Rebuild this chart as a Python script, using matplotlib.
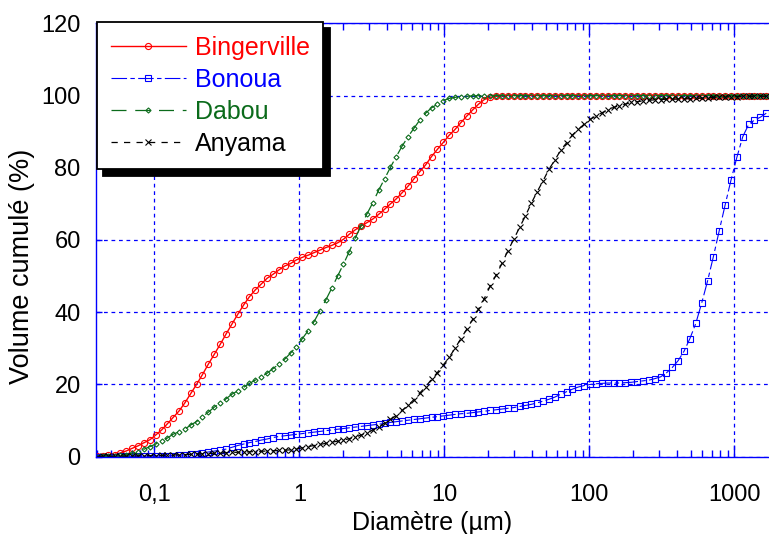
import matplotlib
matplotlib.use("Agg")
import matplotlib.pyplot as plt
import matplotlib.ticker as mticker

plt.rcParams["font.family"] = ["Liberation Sans", "DejaVu Sans"]

# ── Data: cumulative volume (%) per size channel (µm) ────────────────

diametre = [
    0.040, 0.044, 0.048, 0.053, 0.058, 0.064, 0.070, 0.077, 0.084, 0.093,
    0.102, 0.112, 0.122, 0.134, 0.148, 0.162, 0.178, 0.195, 0.214, 0.235,
    0.258, 0.284, 0.311, 0.342, 0.375, 0.412, 0.452, 0.496, 0.545, 0.598,
    0.657, 0.721, 0.791, 0.869, 0.953, 1.047, 1.149, 1.261, 1.385, 1.520,
    1.668, 1.832, 2.011, 2.207, 2.423, 2.660, 2.920, 3.205, 3.519, 3.863,
    4.240, 4.655, 5.110, 5.610, 6.158, 6.760, 7.421, 8.147, 8.943, 9.817,
    10.78, 11.83, 12.99, 14.26, 15.65, 17.18, 18.86, 20.71, 22.73, 24.95,
    27.39, 30.07, 33.01, 36.24, 39.78, 43.67, 47.94, 52.62, 57.77, 63.42,
    69.62, 76.42, 83.90, 92.09, 101.1, 111.0, 121.8, 133.7, 146.8, 161.2,
    176.9, 194.2, 213.2, 234.1, 256.9, 282.1, 309.6, 339.9, 373.1, 409.6,
    449.7, 493.6, 541.9, 594.9, 653.0, 716.9, 786.9, 863.9, 948.3, 1041,
    1143, 1255, 1377, 1512, 1660,
]

bingerville = [
    0.1, 0.2, 0.35, 0.6, 1.0, 1.6, 2.3, 3.0, 3.8, 4.7,
    6.0, 7.4, 9.0, 10.8, 12.7, 14.9, 17.5, 20.0, 22.7, 25.6,
    28.3, 31.1, 33.9, 36.7, 39.4, 42.0, 44.3, 46.2, 47.8, 49.4,
    50.5, 51.7, 52.8, 53.5, 54.5, 55.2, 55.8, 56.5, 57.2, 57.9,
    58.5, 59.2, 60.2, 61.6, 62.8, 63.9, 64.8, 65.8, 67.1, 68.5,
    70.0, 71.4, 73.1, 74.9, 76.9, 78.9, 80.8, 83.1, 85.1, 87.0,
    89.0, 90.6, 92.5, 94.3, 96.0, 97.6, 98.9, 99.5, 99.8, 99.9,
    100, 100, 100, 100, 100, 100, 100, 100, 100, 100,
    100, 100, 100, 100, 100, 100, 100, 100, 100, 100,
    100, 100, 100, 100, 100, 100, 100, 100, 100, 100,
    100, 100, 100, 100, 100, 100, 100, 100, 100, 100,
    100, 100, 100, 100, 100,
]

bonoua = [
    0.02, 0.03, 0.04, 0.05, 0.06, 0.08, 0.1, 0.12, 0.14, 0.17,
    0.2, 0.23, 0.27, 0.3, 0.4, 0.5, 0.65, 0.85, 1.05, 1.3,
    1.55, 1.8, 2.1, 2.6, 3.1, 3.5, 3.9, 4.2, 4.6, 4.9,
    5.3, 5.6, 5.8, 6.0, 6.2, 6.4, 6.6, 6.8, 7.0, 7.2,
    7.4, 7.6, 7.8, 8.0, 8.2, 8.4, 8.6, 8.8, 9.0, 9.2,
    9.5, 9.7, 9.9, 10.1, 10.3, 10.5, 10.7, 10.9, 11.1, 11.3,
    11.5, 11.7, 11.9, 12.0, 12.2, 12.4, 12.6, 12.8, 13.0, 13.2,
    13.4, 13.6, 13.9, 14.2, 14.5, 14.9, 15.4, 15.9, 16.5, 17.3,
    18.0, 18.7, 19.3, 19.7, 20.0, 20.2, 20.3, 20.4, 20.4, 20.4,
    20.5, 20.6, 20.8, 21.0, 21.2, 21.6, 22.1, 23.2, 24.7, 26.6,
    29.2, 32.7, 36.9, 42.5, 48.6, 55.4, 62.6, 69.7, 76.6, 82.9,
    88.6, 92.0, 93.2, 94.0, 95.1,
]

dabou = [
    0.05, 0.1, 0.15, 0.25, 0.4, 0.6, 0.9, 1.4, 2.0, 2.8,
    3.5, 4.4, 5.1, 6.2, 6.9, 7.6, 8.8, 9.7, 11.1, 12.3,
    13.7, 14.8, 16.0, 17.3, 18.2, 19.2, 20.3, 21.2, 22.1, 23.1,
    24.4, 25.6, 27.0, 28.7, 30.5, 32.7, 34.9, 37.4, 40.4, 43.4,
    46.6, 50.0, 53.3, 56.8, 60.5, 63.9, 67.2, 70.3, 73.8, 76.9,
    80.1, 83.1, 86.0, 88.6, 90.9, 93.2, 95.1, 96.6, 97.6, 98.6,
    99.2, 99.5, 99.7, 99.8, 99.9, 99.95, 100, 100, 100, 100,
    100, 100, 100, 100, 100, 100, 100, 100, 100, 100,
    100, 100, 100, 100, 100, 100, 100, 100, 100, 100,
    100, 100, 100, 100, 100, 100, 100, 100, 100, 100,
    100, 100, 100, 100, 100, 100, 100, 100, 100, 100,
    100, 100, 100, 100, 100,
]

anyama = [
    0.05, 0.06, 0.08, 0.1, 0.12, 0.15, 0.18, 0.21, 0.25, 0.29,
    0.33, 0.37, 0.42, 0.47, 0.53, 0.59, 0.65, 0.72, 0.8, 0.88,
    0.96, 1.04, 1.1, 1.17, 1.23, 1.3, 1.36, 1.42, 1.5, 1.57,
    1.64, 1.72, 1.8, 1.9, 2.1, 2.5, 2.8, 3.1, 3.4, 3.7,
    4.0, 4.3, 4.6, 5.0, 5.4, 6.0, 6.6, 7.4, 8.3, 9.3,
    10.3, 11.4, 12.8, 14.2, 15.8, 17.6, 19.4, 21.4, 23.3, 25.4,
    27.5, 30.0, 32.7, 35.3, 38.0, 40.8, 43.8, 47.3, 50.3, 53.5,
    57.0, 60.2, 63.5, 66.7, 70.2, 73.4, 76.4, 79.6, 82.1, 84.9,
    86.9, 89.1, 90.6, 92.1, 93.4, 94.3, 95.2, 96.0, 96.7, 97.2,
    97.6, 98.1, 98.3, 98.5, 98.7, 98.8, 98.9, 99.0, 99.0, 99.0,
    99.1, 99.1, 99.2, 99.3, 99.4, 99.5, 99.6, 99.6, 99.7, 99.7,
    99.8, 99.8, 99.8, 99.8, 99.8,
]

x_ticks = [0.1, 1, 10, 100, 1000]
x_ticklabels = ["0,1", "1", "10", "100", "1000"]
y_ticks = [0, 20, 40, 60, 80, 100, 120]

# ── Figure ───────────────────────────────────────────────────────────

BLUE = "#0000ff"
FS = 17

fig = plt.figure(figsize=(7.69, 5.34), dpi=100)
ax = fig.add_axes([96 / 769, 1 - 456.7 / 534, (769 - 96) / 769, 433.4 / 534])

ax.plot(diametre, bingerville, color="#ff0000", lw=1.0, ls="-",
        marker="o", ms=4.4, mfc="none", mew=0.8, label="Bingerville")
ax.plot(diametre, bonoua, color=BLUE, lw=0.8, ls=(0, (14, 3, 4, 3)),
        marker="s", ms=3.8, mfc="none", mew=0.8, label="Bonoua")
ax.plot(diametre, dabou, color="#0b6b1b", lw=0.9, ls=(0, (12, 7)),
        marker="D", ms=2.6, mfc="none", mew=0.8, label="Dabou")
ax.plot(diametre, anyama, color="black", lw=0.9, ls=(0, (5, 5)),
        marker="x", ms=4.2, mew=0.8, label="Anyama")

ax.set_xscale("log")
ax.set_xlim(0.0395, 1734)
ax.set_ylim(0, 120)

ax.xaxis.set_major_locator(mticker.FixedLocator(x_ticks))
ax.xaxis.set_major_formatter(mticker.FixedFormatter(x_ticklabels))
ax.xaxis.set_minor_locator(mticker.LogLocator(base=10, subs=range(2, 10), numticks=20))
ax.xaxis.set_minor_formatter(mticker.NullFormatter())
ax.set_yticks(y_ticks)

ax.grid(True, which="major", color=BLUE, linestyle=(0, (3, 3)), linewidth=0.9)

ax.tick_params(axis="x", which="major", direction="in", length=8.5, width=1,
               color=BLUE, top=True, pad=20, labelsize=FS)
ax.tick_params(axis="x", which="minor", direction="in", length=5, width=1,
               color=BLUE, top=True)
ax.tick_params(axis="y", which="major", direction="in", length=4, width=1,
               color=BLUE, right=False, pad=11, labelsize=FS)

for side in ["left", "bottom", "top"]:
    ax.spines[side].set_color(BLUE)
    ax.spines[side].set_linewidth(1.0)
ax.spines["right"].set_visible(False)

ax.set_xlabel("Diamètre (µm)", fontsize=18, labelpad=3)
ax.set_ylabel("Volume cumulé (%)", fontsize=19.5)
ax.yaxis.set_label_coords(-0.09, 0.44)

leg = ax.legend(loc="upper left", bbox_to_anchor=(0.0015, 1.003),
                borderaxespad=0, fontsize=18, labelcolor="linecolor",
                fancybox=False, framealpha=1, edgecolor="black",
                handlelength=3.0, handletextpad=0.35, labelspacing=0.32,
                borderpad=0.55, numpoints=1,
                shadow={"color": "black", "alpha": 1, "ox": 4.5, "oy": -4.5})
leg.get_frame().set_linewidth(1.3)
leg.set_zorder(5)

fig.savefig("out.png", dpi=100, facecolor="white")
